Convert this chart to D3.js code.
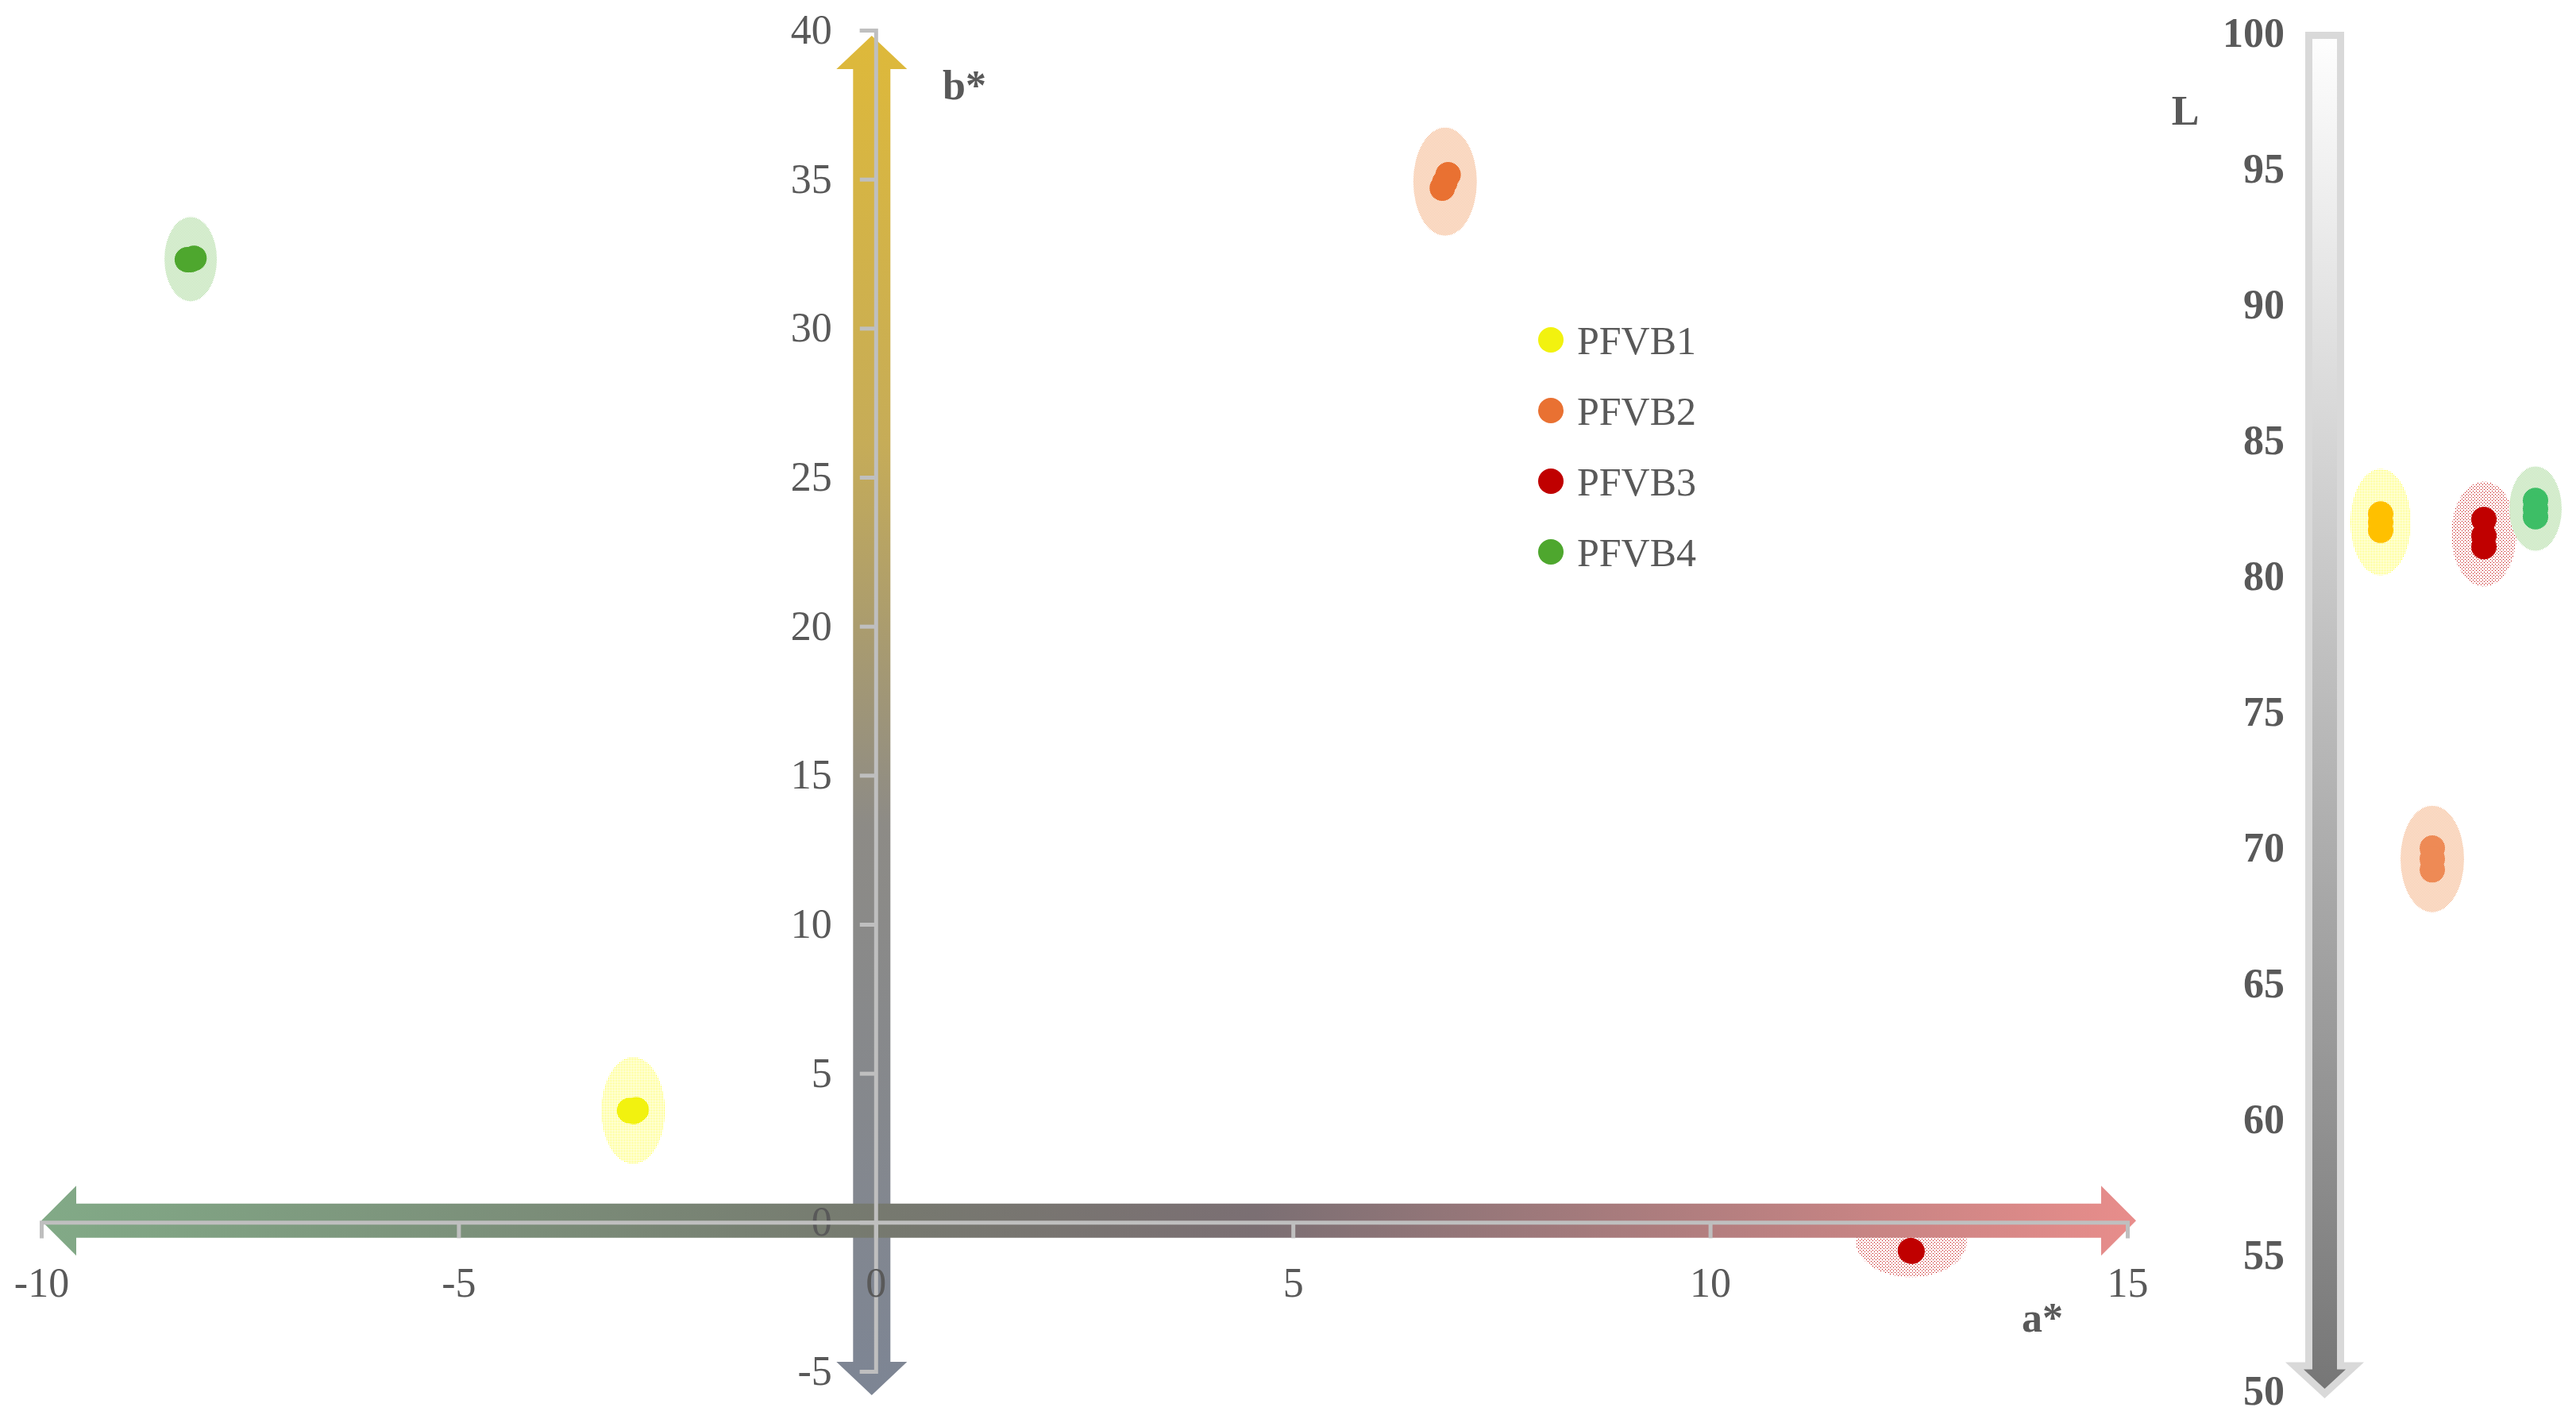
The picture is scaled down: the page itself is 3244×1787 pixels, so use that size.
<!DOCTYPE html>
<html lang="en">
<head>
    <meta charset="UTF-8">
    <title>CIELab</title>
    <script src="https://d3js.org/d3.v7.min.js"></script>
    <style>
        body { margin: 0; background: #fff; }
        text {
            font-family: 'Liberation Serif', serif;
            fill: #595959;
        }
    </style>
</head>
<body>
<script>
    const width  = 3244;
    const height = 1787;

    // data
    const samples = ["PFVB1", "PFVB2", "PFVB3", "PFVB4"];
    const aStar = [[-2.95, -2.87, -2.90], [6.86, 6.79, 6.82], [12.41, 12.40, 12.42], [-8.25, -8.17, -8.21]];
    const bStar = [[3.75, 3.78, 3.72], [35.15, 34.70, 34.90], [-0.96, -0.95, -0.97], [32.30, 32.35, 32.30]];
    const lStar = [[82.3, 81.7, 82.0], [70.0, 69.2, 69.6], [82.1, 81.5, 81.1], [82.8, 82.2, 82.5]];
    const aTicks = [-10, -5, 0, 5, 10, 15];
    const bTicks = [-5, 0, 5, 10, 15, 20, 25, 30, 35, 40];
    const lTicks = [50, 55, 60, 65, 70, 75, 80, 85, 90, 95, 100];

    const dotColors  = ["#F2F20F", "#E97132", "#C00000", "#4EA72E"];
    const lDotColors = ["#FFC000", "#EE8A55", "#C00000", "#3DBE66"];

    const x = d3.scaleLinear().domain([-10, 15]).range([52, 2679]);
    const y = d3.scaleLinear().domain([-5, 40]).range([1727, 38]);
    const yL = d3.scaleLinear().domain([50, 100]).range([1752, 42]);
    const xL = d3.scalePoint().domain(samples).range([2998, 3193]);

    const svg = d3.select("body").append("svg").attr("width", width).attr("height", height);
    const defs = svg.append("defs");

    // gradients
    function grad(id, x2, y2, stops) {
        const g = defs.append("linearGradient").attr("id", id)
            .attr("x1", 0).attr("y1", 0).attr("x2", x2).attr("y2", y2);
        stops.forEach(s => g.append("stop").attr("offset", s[0]).attr("stop-color", s[1]));
    }
    grad("gradB", 0, 1, [["0%", "#DEB93A"], ["30%", "#C6AC58"], ["58%", "#8D8B86"], ["100%", "#7D8594"]]);
    grad("gradA", 1, 0, [["0%", "#82AA87"], ["40%", "#76796F"], ["58%", "#7B6F73"], ["100%", "#E88D8B"]]);
    grad("gradL", 0, 1, [["0%", "#FEFEFE"], ["100%", "#767676"]]);

    // dotted fills for the ellipses
    function pattern(id, size, color, cells) {
        const p = defs.append("pattern").attr("id", id).attr("patternUnits", "userSpaceOnUse")
            .attr("width", size).attr("height", size);
        cells.forEach(c => p.append("rect").attr("x", c[0]).attr("y", c[1]).attr("width", 1).attr("height", 1).attr("fill", color));
    }
    pattern("pYellow", 2, "#FFFF00", [[0, 0]]);
    pattern("pOrange", 2, "#F4B183", [[0, 0], [1, 1]]);
    pattern("pGreen", 2, "#A9D99A", [[0, 0], [1, 1]]);
    pattern("pRed", 4, "#C00000", [[0, 0], [2, 2]]);
    const ellFill = ["url(#pYellow)", "url(#pOrange)", "url(#pRed)", "url(#pGreen)"];
    const ellR  = [[40, 67], [40, 68], [70, 45], [33, 53]];
    const ellRL = [[38, 67], [40, 67], [41, 66], [33, 53]];

    // ellipses a*/b*
    svg.append("g").selectAll("ellipse").data(samples).join("ellipse")
        .attr("cx", (d, i) => x(d3.mean(aStar[i])))
        .attr("cy", (d, i) => y(d3.mean(bStar[i])) - (i === 2 ? 12 : 0))
        .attr("rx", (d, i) => ellR[i][0])
        .attr("ry", (d, i) => ellR[i][1])
        .attr("fill", (d, i) => ellFill[i]);

    // b* arrow
    const bx = x(0) - 5, sh = 23.5, hh = 44.5, hl = 42;
    const yTop = y(40) + 7, yBot = y(-5) + 30;
    svg.append("path")
        .attr("d", `M${bx},${yTop} L${bx + hh},${yTop + hl} L${bx + sh},${yTop + hl} L${bx + sh},${yBot - hl}
                    L${bx + hh},${yBot - hl} L${bx},${yBot} L${bx - hh},${yBot - hl} L${bx - sh},${yBot - hl}
                    L${bx - sh},${yTop + hl} L${bx - hh},${yTop + hl} Z`)
        .attr("fill", "url(#gradB)");

    // a* arrow
    const ay = y(0) - 2, ash = 21.5, ahh = 44, ahl = 44;
    const xL0 = x(-10), xR0 = x(15) + 11;
    svg.append("path")
        .attr("d", `M${xL0},${ay} L${xL0 + ahl},${ay - ahh} L${xL0 + ahl},${ay - ash} L${xR0 - ahl},${ay - ash}
                    L${xR0 - ahl},${ay - ahh} L${xR0},${ay} L${xR0 - ahl},${ay + ahh} L${xR0 - ahl},${ay + ash}
                    L${xL0 + ahl},${ay + ash} L${xL0 + ahl},${ay + ahh} Z`)
        .attr("fill", "url(#gradA)");

    // axes
    const fmt = d => String(d);
    const yAxis = svg.append("g").attr("transform", `translate(${x(0)},0)`)
        .call(d3.axisLeft(y).tickValues(bTicks).tickFormat(fmt).tickSize(20).tickPadding(35));
    const xAxis = svg.append("g").attr("transform", `translate(0,${y(0)})`)
        .call(d3.axisBottom(x).tickValues(aTicks).tickFormat(fmt).tickSize(20).tickPadding(37));
    [xAxis, yAxis].forEach(a => {
        a.selectAll("path, line").attr("stroke", "#BFBFBF").attr("stroke-width", 5);
        a.selectAll("text").attr("font-size", 52).attr("fill", "#595959")
            .style("font-family", "'Liberation Serif', serif");
    });

    svg.append("text").text("b*").attr("x", 1187).attr("y", 125)
        .attr("font-size", 52).attr("font-weight", "bold");
    svg.append("text").text("a*").attr("x", 2572).attr("y", 1677).attr("text-anchor", "middle")
        .attr("font-size", 52).attr("font-weight", "bold");

    // a*/b* points
    samples.forEach((s, i) => {
        svg.append("g").selectAll("circle").data(aStar[i]).join("circle")
            .attr("cx", d => x(d))
            .attr("cy", (d, j) => y(bStar[i][j]))
            .attr("r", 16)
            .attr("fill", dotColors[i]);
    });

    // legend
    const legend = svg.append("g").selectAll("g").data(samples).join("g")
        .attr("transform", (d, i) => `translate(1953,${428 + i * 89})`);
    legend.append("circle").attr("r", 16).attr("fill", (d, i) => dotColors[i]);
    legend.append("text").text(d => d).attr("x", 33).attr("dy", "0.35em").attr("font-size", 50);

    // L bar (down arrow)
    const lx = 2927.5, lsh = 20, lhh = 38, lTop = 44.5, lBase = 1720, lTip = 1755;
    svg.append("path")
        .attr("d", `M${lx - lsh},${lTop} L${lx + lsh},${lTop} L${lx + lsh},${lBase} L${lx + lhh},${lBase}
                    L${lx},${lTip} L${lx - lhh},${lBase} L${lx - lsh},${lBase} Z`)
        .attr("fill", "url(#gradL)")
        .attr("stroke", "#D9D9D9").attr("stroke-width", 9);

    const lAxis = svg.append("g").attr("transform", "translate(2890,0)")
        .call(d3.axisLeft(yL).tickValues(lTicks).tickFormat(fmt).tickSize(0).tickPadding(13));
    lAxis.select(".domain").remove();
    lAxis.selectAll("text").attr("font-size", 52).attr("font-weight", "bold").attr("fill", "#595959")
        .style("font-family", "'Liberation Serif', serif");

    svg.append("text").text("L").attr("x", 2752).attr("y", 157).attr("text-anchor", "middle")
        .attr("font-size", 52).attr("font-weight", "bold");

    // L ellipses and points
    svg.append("g").selectAll("ellipse").data(samples).join("ellipse")
        .attr("cx", d => xL(d))
        .attr("cy", (d, i) => yL(d3.mean(lStar[i])))
        .attr("rx", (d, i) => ellRL[i][0])
        .attr("ry", (d, i) => ellRL[i][1])
        .attr("fill", (d, i) => ellFill[i]);

    samples.forEach((s, i) => {
        svg.append("g").selectAll("circle").data(lStar[i]).join("circle")
            .attr("cx", xL(s))
            .attr("cy", d => yL(d))
            .attr("r", 16)
            .attr("fill", lDotColors[i]);
    });
</script>
</body>
</html>
